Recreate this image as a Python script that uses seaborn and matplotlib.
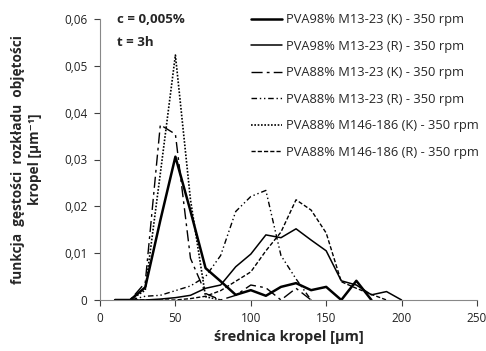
import numpy as np
import pandas as pd
import matplotlib
matplotlib.use("Agg")
import matplotlib.pyplot as plt
import seaborn as sns
from matplotlib.ticker import FuncFormatter

sns.set_theme(style="white")
plt.rcParams['font.family'] = ['Open Sans', 'DejaVu Sans']

# ---- data ----
x_98K = [10, 20, 30, 40, 50, 60, 70, 80, 90, 100, 110, 120, 130, 140, 150, 160, 170, 180]
y_98K = [0, 0, 0.0027, 0.017, 0.0306, 0.019, 0.0068, 0.004, 0.0011, 0.0021, 0.0009, 0.0028,
         0.0036, 0.0021, 0.0028, 0, 0.0041, 0]

x_98R = [10, 20, 30, 40, 50, 60, 70, 80, 90, 100, 110, 120, 130, 140, 150, 160, 170, 180, 190, 200]
y_98R = [0, 0, 0, 0.0002, 0.0005, 0.001, 0.0025, 0.0032, 0.0071, 0.0098, 0.0139, 0.0133,
         0.0152, 0.0128, 0.0105, 0.0041, 0.0032, 0.0011, 0.0018, 0]

x_88K = [10, 20, 30, 40, 50, 60, 70, 80, 90, 100, 110, 120, 130, 140]
y_88K = [0, 0, 0.0037, 0.0374, 0.0354, 0.0089, 0.0014, 0, 0.001, 0.0032, 0.0026, 0, 0.0025, 0]

x_88R = [10, 20, 30, 40, 50, 60, 70, 80, 90, 100, 110, 120, 130, 140]
y_88R = [0, 0, 0.0008, 0.001, 0.002, 0.003, 0.005, 0.0095, 0.0189, 0.0221, 0.0234, 0.0095, 0.0045, 0]

x_146K = [10, 20, 30, 40, 50, 60, 70, 80]
y_146K = [0, 0, 0.0021, 0.027, 0.0523, 0.0214, 0.0007, 0]

x_146R = [10, 20, 30, 40, 50, 60, 70, 80, 90, 100, 110, 120, 130, 140, 150, 160, 170, 180, 190]
y_146R = [0, 0, 0, 0, 0, 0.0003, 0.0008, 0.002, 0.004, 0.006, 0.0105, 0.0145, 0.0214,
          0.0192, 0.0143, 0.0039, 0.0025, 0.0012, 0]

labels = ["PVA98% M13-23 (K) - 350 rpm",
          "PVA98% M13-23 (R) - 350 rpm",
          "PVA88% M13-23 (K) - 350 rpm",
          "PVA88% M13-23 (R) - 350 rpm",
          "PVA88% M146-186 (K) - 350 rpm",
          "PVA88% M146-186 (R) - 350 rpm"]

xs = [x_98K, x_98R, x_88K, x_88R, x_146K, x_146R]
ys = [y_98K, y_98R, y_88K, y_88R, y_146K, y_146R]

styles = [dict(lw=1.8, ls='-'),
          dict(lw=1.1, ls='-'),
          dict(lw=1.0, ls=(0, (8, 3, 2, 3))),
          dict(lw=1.0, ls=(0, (4, 2, 1, 2, 1, 2))),
          dict(lw=1.2, ls=(0, (1, 1))),
          dict(lw=1.0, ls=(0, (3, 1.5)))]

x_ticks = [0, 50, 100, 150, 200, 250]
y_ticks = [0, 0.01, 0.02, 0.03, 0.04, 0.05, 0.06]

fig = plt.figure(figsize=(4.86, 3.51), dpi=100)
ax = fig.add_axes([100/486, 1-300/351, 377/486, 281/351])

for x, y, lab, st in zip(xs, ys, labels, styles):
    sns.lineplot(x=x, y=y, ax=ax, color='black', linewidth=st['lw'],
                 linestyle=st['ls'], label=lab, legend=False)

ax.set_xlim(0, 250)
ax.set_ylim(0, 0.06)
ax.set_xticks(x_ticks)
ax.set_yticks(y_ticks)

def yfmt(v, pos):
    if abs(v) < 1e-12:
        return "0"
    return f"{v:.2f}".replace('.', ',')

ax.yaxis.set_major_formatter(FuncFormatter(yfmt))
ax.tick_params(axis='both', which='major', labelsize=8.5, colors='#404040',
               length=4, direction='out', width=0.8, left=True, bottom=True, pad=5)
for t in ax.get_xticklabels() + ax.get_yticklabels():
    t.set_color('#222222')

for s in ['top', 'right']:
    ax.spines[s].set_visible(False)
for s in ['left', 'bottom']:
    ax.spines[s].set_color('#888888')
    ax.spines[s].set_linewidth(0.8)

ax.set_xlabel("średnica kropel [μm]", fontsize=10.5, fontweight='bold', labelpad=3)
ax.set_ylabel("funkcja  gęstości  rozkładu  objętości\nkropel [μm⁻¹]",
              fontsize=9.8, fontweight='bold', labelpad=16, linespacing=1.25)

ax.text(11, 0.0598, "c = 0,005%", fontsize=9.5, fontweight='bold', va='center', ha='left')
ax.text(11, 0.0549, "t = 3h", fontsize=9.5, fontweight='bold', va='center', ha='left')

handles, labs = ax.get_legend_handles_labels()
leg = fig.legend(handles, labs, loc='upper left', bbox_to_anchor=(246/486, 1-8/351),
                 frameon=False, fontsize=9.3, handlelength=2.4, labelspacing=1.05,
                 handletextpad=0.3, borderaxespad=0)

fig.savefig("out.png", dpi=100)
